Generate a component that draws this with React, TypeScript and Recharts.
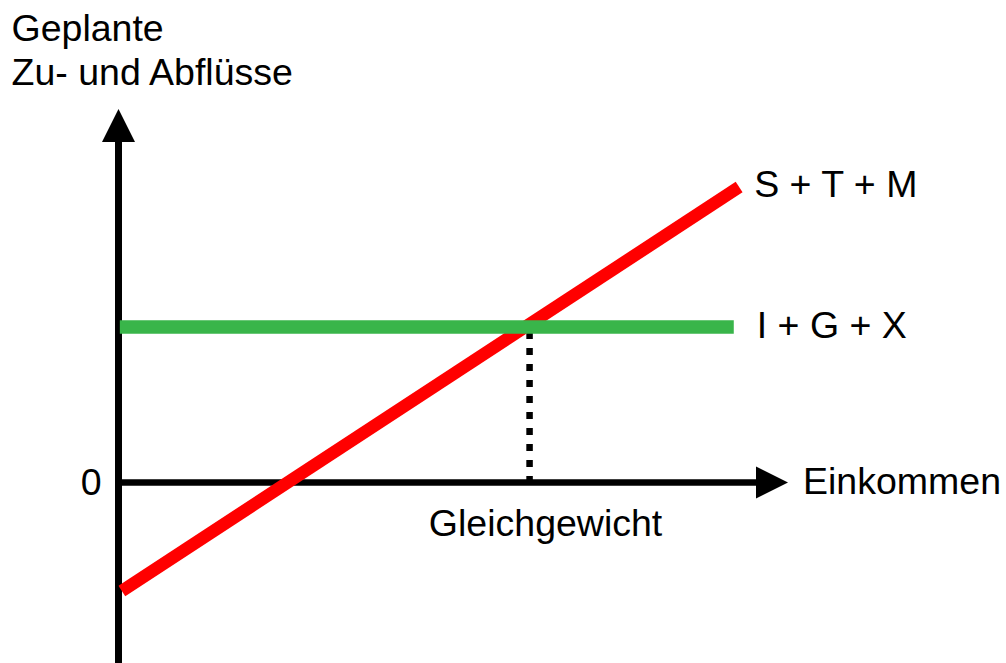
import { ComposedChart, Line, ReferenceDot, ReferenceLine, XAxis, YAxis } from 'recharts';

// Geplante Zu- und Abflüsse: S + T + M steigt mit dem Einkommen, I + G + X ist konstant
const sTMIncome = [0.05, 9.27];
const sTMValues = [-2.79, 7.6];
const iGXIncome = [0.02, 9.19];
const iGXValues = [4, 4];
const equilibriumIncome = 6.14;
const equilibriumLevel = 4;

const yTitle = ['Geplante', 'Zu- und Abflüsse'];
const xTitle = 'Einkommen';
const zeroLabel = '0';
const equilibriumLabel = 'Gleichgewicht';
const sTMLabel = 'S + T + M';
const iGXLabel = 'I + G + X';

const sTMData = sTMIncome.map((x, i) => ({ x, y: sTMValues[i] }));
const iGXData = iGXIncome.map((x, i) => ({ x, y: iGXValues[i] }));

const font = { fontFamily: '"Liberation Sans", Arial, sans-serif', fontSize: 37.5, fill: '#000' };

const textShape =
  (lines: string[], dx: number, dy: number, anchor: 'start' | 'middle' | 'end' = 'start', lineGap = 44) =>
  (props: any) => (
    <g>
      {lines.map((line, i) => (
        <text key={line} x={props.cx + dx} y={props.cy + dy + i * lineGap} textAnchor={anchor} {...font}>
          {line}
        </text>
      ))}
    </g>
  );

const upArrow = (props: any) => (
  <polygon
    points={`${props.cx},${props.cy} ${props.cx - 16.5},${props.cy + 33} ${props.cx + 16.5},${props.cy + 33}`}
    fill="#000"
  />
);

const rightArrow = (props: any) => (
  <polygon
    points={`${props.cx},${props.cy} ${props.cx - 32},${props.cy - 16} ${props.cx - 32},${props.cy + 16}`}
    fill="#000"
  />
);

export default function App() {
  return (
    <div style={{ position: 'absolute', left: 0, top: 0, background: '#fff' }}>
      <ComposedChart
        width={1006}
        height={663}
        margin={{ top: 113.19, right: 218, bottom: 5.56, left: 118.5 }}
      >
        <XAxis dataKey="x" type="number" domain={[0, 10]} hide allowDataOverflow />
        <YAxis type="number" domain={[-4.5, 9.5]} hide allowDataOverflow />

        {/* Achsen */}
        <ReferenceLine
          segment={[{ x: 0, y: -4.7 }, { x: 0, y: 8.9 }]}
          stroke="#000"
          strokeWidth={7}
          ifOverflow="visible"
        />
        <ReferenceLine
          segment={[{ x: -0.05, y: 0 }, { x: 9.6, y: 0 }]}
          stroke="#000"
          strokeWidth={6.5}
          ifOverflow="visible"
        />
        <ReferenceDot x={0} y={9.61} r={1} shape={upArrow} ifOverflow="visible" />
        <ReferenceDot x={10} y={0} r={1} shape={rightArrow} ifOverflow="visible" />

        {/* Gleichgewicht */}
        <ReferenceLine
          segment={[{ x: equilibriumIncome, y: equilibriumLevel }, { x: equilibriumIncome, y: 0 }]}
          stroke="#000"
          strokeWidth={6.5}
          strokeDasharray="7 9"
          strokeDashoffset={11}
          ifOverflow="visible"
        />

        <Line
          data={sTMData}
          dataKey="y"
          stroke="#ff0000"
          strokeWidth={12.5}
          dot={false}
          activeDot={false}
          isAnimationActive={false}
        />
        <Line
          data={iGXData}
          dataKey="y"
          stroke="#39b54a"
          strokeWidth={13.5}
          dot={false}
          activeDot={false}
          isAnimationActive={false}
        />

        {/* Beschriftungen */}
        <ReferenceDot x={0} y={9.61} r={1} shape={textShape(yTitle, -107, -68)} ifOverflow="visible" />
        <ReferenceDot x={10} y={0} r={1} shape={textShape([xTitle], 15, 11)} ifOverflow="visible" />
        <ReferenceDot x={0} y={0} r={1} shape={textShape([zeroLabel], -17, 12, 'end')} ifOverflow="visible" />
        <ReferenceDot
          x={equilibriumIncome}
          y={0}
          r={1}
          shape={textShape([equilibriumLabel], 16, 53, 'middle')}
          ifOverflow="visible"
        />
        <ReferenceDot
          x={sTMIncome[1]}
          y={sTMValues[1]}
          r={1}
          shape={textShape([sTMLabel], 15, 9.5)}
          ifOverflow="visible"
        />
        <ReferenceDot
          x={iGXIncome[1]}
          y={iGXValues[1]}
          r={1}
          shape={textShape([iGXLabel], 23, 10.5)}
          ifOverflow="visible"
        />
      </ComposedChart>
    </div>
  );
}
